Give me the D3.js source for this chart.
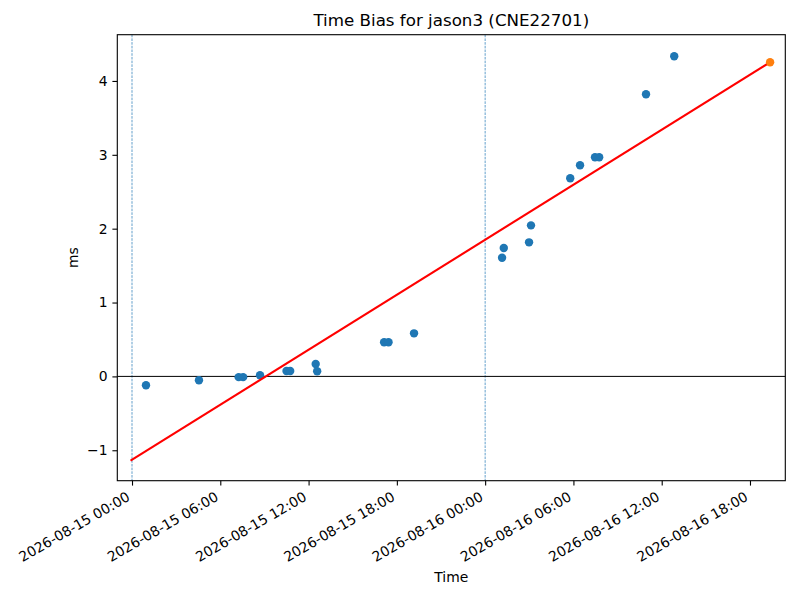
<html>
<head>
<meta charset="utf-8">
<script src="https://d3js.org/d3.v7.min.js"></script>
<style>
    html, body {
        margin: 0;
        padding: 0;
        background: white;
    }
    text {
        font-family: "DejaVu Sans", sans-serif;
    }
</style>
</head>
<body>
<script>
    // measured time bias samples (ms)
    var sampleTimes = [
        "2026-08-15 00:57", "2026-08-15 04:33", "2026-08-15 07:15", "2026-08-15 07:33",
        "2026-08-15 08:42", "2026-08-15 10:30", "2026-08-15 10:45", "2026-08-15 12:29",
        "2026-08-15 12:35", "2026-08-15 17:08", "2026-08-15 17:26", "2026-08-15 19:10",
        "2026-08-16 01:09", "2026-08-16 01:16", "2026-08-16 02:59", "2026-08-16 03:07",
        "2026-08-16 05:47", "2026-08-16 06:27", "2026-08-16 07:28", "2026-08-16 07:45",
        "2026-08-16 10:56", "2026-08-16 12:51"
    ];
    var sampleBias = [
        -0.12, -0.053, -0.01, -0.01,
        0.015, 0.073, 0.073, 0.168,
        0.069, 0.462, 0.462, 0.583,
        1.607, 1.738, 1.815, 2.045,
        2.682, 2.858, 2.966, 2.966,
        3.82, 4.334
    ];
    // linear fit end points
    var fitTimes = ["2026-08-14 23:54", "2026-08-16 19:22"];
    var fitBias = [-1.141, 4.253];
    // predicted point
    var predTime = ["2026-08-16 19:22"];
    var predBias = [4.253];
    // day boundaries (dashed)
    var dayLines = ["2026-08-15 00:00", "2026-08-16 00:00"];
    var xLimits = ["2026-08-14 23:00", "2026-08-16 20:24"];
    var yLimits = [-1.412, 4.626];
    var yTicks = [-1, 0, 1, 2, 3, 4];

    var parse = d3.utcParse("%Y-%m-%d %H:%M");
    var fmt = d3.utcFormat("%Y-%m-%d %H:%M");

    // axes box (window.top is reserved, so no "top" here)
    var axLeft = 117.3, axRight = 785.3, axTop = 34.7, axBottom = 480.7;

    var svg = d3.select("body").append("svg")
        .attr("width", 800)
        .attr("height", 600);

    var x = d3.scaleUtc()
        .domain(xLimits.map(parse))
        .range([axLeft, axRight]);
    var y = d3.scaleLinear()
        .domain(yLimits)
        .range([axBottom, axTop]);

    var plot = svg.append("g");

    // day boundary lines
    plot.selectAll(".dayline")
        .data(dayLines)
        .enter().append("line")
        .attr("x1", d => x(parse(d)))
        .attr("x2", d => x(parse(d)))
        .attr("y1", axTop)
        .attr("y2", axBottom)
        .attr("stroke", "#1f77b4")
        .attr("stroke-width", 0.7)
        .attr("stroke-dasharray", "2.6,1.1");

    // zero line
    plot.append("line")
        .attr("x1", axLeft)
        .attr("x2", axRight)
        .attr("y1", y(0))
        .attr("y2", y(0))
        .attr("stroke", "black")
        .attr("stroke-width", 1);

    // samples
    plot.selectAll(".pt")
        .data(sampleTimes)
        .enter().append("circle")
        .attr("cx", d => x(parse(d)))
        .attr("cy", (d, i) => y(sampleBias[i]))
        .attr("r", 4.2)
        .attr("fill", "#1f77b4");

    // fit line
    var line = d3.line()
        .x(d => x(parse(d)))
        .y((d, i) => y(fitBias[i]));
    plot.append("path")
        .attr("d", line(fitTimes))
        .attr("fill", "none")
        .attr("stroke", "red")
        .attr("stroke-width", 2.1);

    plot.selectAll(".pred")
        .data(predTime)
        .enter().append("circle")
        .attr("cx", d => x(parse(d)))
        .attr("cy", (d, i) => y(predBias[i]))
        .attr("r", 4.2)
        .attr("fill", "#ff7f0e");

    // axes
    var xTicks = d3.utcHour.every(6).range(parse("2026-08-15 00:00"), parse("2026-08-16 20:00"));
    var xAxis = svg.append("g")
        .attr("transform", "translate(0," + axBottom + ")")
        .call(d3.axisBottom(x).tickValues(xTicks).tickFormat(fmt).tickSize(4.9).tickPadding(4.9));
    xAxis.select(".domain").remove();
    xAxis.selectAll(".tick line").attr("stroke", "black").attr("stroke-width", 1.1);
    xAxis.selectAll(".tick text")
        .attr("font-size", "13.9px")
        .attr("fill", "black")
        .attr("text-anchor", "end")
        .attr("dy", null)
        .attr("y", null)
        .attr("transform", "translate(-1.5,19) rotate(-30)");

    var yAxis = svg.append("g")
        .attr("transform", "translate(" + axLeft + ",0)")
        .call(d3.axisLeft(y).tickValues(yTicks).tickFormat(d3.format("d")).tickSize(4.9).tickPadding(4.9));
    yAxis.select(".domain").remove();
    yAxis.selectAll(".tick line").attr("stroke", "black").attr("stroke-width", 1.1);
    yAxis.selectAll(".tick text")
        .attr("font-size", "13.9px")
        .attr("fill", "black");

    // frame
    svg.append("rect")
        .attr("x", axLeft)
        .attr("y", axTop)
        .attr("width", axRight - axLeft)
        .attr("height", axBottom - axTop)
        .attr("fill", "none")
        .attr("stroke", "black")
        .attr("stroke-width", 1.1);

    svg.append("text")
        .attr("x", (axLeft + axRight) / 2)
        .attr("y", 26.4)
        .attr("text-anchor", "middle")
        .attr("font-size", "16.7px")
        .text("Time Bias for jason3 (CNE22701)");

    svg.append("text")
        .attr("x", (axLeft + axRight) / 2)
        .attr("y", 582)
        .attr("text-anchor", "middle")
        .attr("font-size", "13.9px")
        .text("Time");

    svg.append("text")
        .attr("transform", "translate(78," + ((axTop + axBottom) / 2) + ") rotate(-90)")
        .attr("text-anchor", "middle")
        .attr("font-size", "13.9px")
        .text("ms");
</script>
</body>
</html>
